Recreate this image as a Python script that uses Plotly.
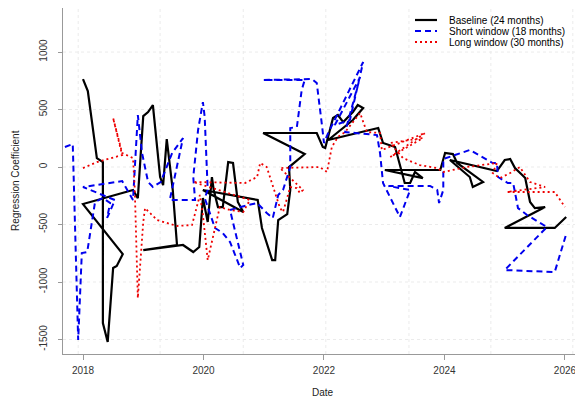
import plotly.graph_objects as go

# ---------------- data (decimal year, coefficient) ----------------
baseline_x = [2018.00, 2018.08, 2018.23, 2018.33, 2018.33, 2018.41, 2018.50, 2018.56, 2018.66, 2018.00,
              2018.83, 2018.91, 2019.00, 2019.08, 2019.16, 2019.28, 2019.33, 2019.39, 2019.49, 2019.56,
              2019.00, 2019.66, 2019.83, 2019.93, 2019.99, 2020.07, 2020.14, 2020.17, 2020.24, 2020.32,
              2020.41, 2020.49, 2020.57, 2020.66, 2019.99, 2020.90, 2020.97, 2021.14, 2021.19, 2021.24,
              2021.39, 2021.44, 2021.42, 2021.68, 2020.99, 2021.88, 2021.98, 2022.02, 2022.15, 2022.23,
              2022.32, 2022.48, 2022.56, 2022.65, 2022.48, 2022.07, 2022.90, 2022.98, 2023.18, 2023.34,
              2023.43, 2023.51, 2023.64, 2023.01, 2023.93, 2024.01, 2024.14, 2024.21, 2024.64, 2024.47,
              2024.42, 2024.09, 2024.87, 2025.00, 2025.09, 2025.17, 2025.29, 2025.34, 2025.42, 2025.50,
              2025.67, 2025.00, 2025.83, 2026.02]
baseline_y = [765, 661, 78, 43, -1357, -1522, -878, -861, -757, -322,
              -200, -270, 443, 478, 539, -87, -157, 243, -200, -678,
              -722, -678, -739, -696, -270, -478, -87, -200, -348, -348,
              43, 35, -304, -391, -200, -287, -530, -809, -809, -461,
              -409, -200, 0, 113, 296, 296, 174, 165, 426, 452,
              391, 478, 539, 513, 409, 235, 339, 209, 174, -139,
              -139, -43, -96, -26, -26, 122, 113, 35, -130, -174,
              -87, 61, -35, 61, 70, -9, -70, -96, -304, -357,
              -348, -530, -530, -435]

short_x = [2017.70, 2017.83, 2017.92, 2017.98, 2018.07, 2018.20, 2018.33, 2018.45, 2018.40, 2018.53,
           2018.00, 2018.65, 2018.83, 2018.91, 2018.98, 2019.08, 2019.16, 2019.29, 2019.48, 2019.66,
           2019.44, 2019.86, 2019.83, 2019.91, 2019.99, 2020.02, 2020.07, 2020.02, 2020.19, 2020.32,
           2020.44, 2020.61, 2020.66, 2020.44, 2020.74, 2020.89, 2021.05, 2021.15, 2021.24, 2021.32,
           2021.44, 2021.44, 2021.55, 2021.63, 2021.68, 2020.99, 2021.80, 2021.88, 2021.97, 2022.00,
           2022.07, 2022.65, 2022.43, 2022.18, 2022.60, 2022.35, 2022.88, 2022.93, 2022.98, 2023.26,
           2023.43, 2023.07, 2023.76, 2023.88, 2023.91, 2023.98, 2023.98, 2024.42, 2024.80, 2024.87,
           2024.89, 2025.05, 2025.14, 2025.22, 2025.37, 2025.70, 2025.00, 2025.83, 2026.02]
short_y = [174, 200, -1504, -748, -739, -304, -270, -313, -443, -287,
           -174, -122, -287, 452, 122, -130, -174, -130, 122, 252,
           -287, -287, -87, 322, 565, 435, -200, -270, -530, -574,
           -652, -878, -852, -374, -330, -313, -400, -443, -243, -200,
           0, 339, 348, 670, 757, 757, 765, 730, 348, 209,
           296, 913, 409, 365, 783, 304, 278, 122, -139, -435,
           -200, -165, -165, -200, -313, -200, 70, 148, 35, 35,
           -87, -139, -139, -357, -417, -522, -896, -913, -583]

long_x = [2018.00, 2018.23, 2018.65, 2018.50, 2018.65, 2018.83, 2018.86, 2018.91, 2019.00, 2019.03,
          2019.23, 2019.56, 2019.81, 2019.94, 2019.99, 2020.07, 2020.27, 2020.44, 2020.66, 2020.77,
          2019.83, 2020.69, 2020.89, 2020.94, 2021.05, 2021.27, 2021.32, 2021.44, 2021.55, 2021.60,
          2021.65, 2021.27, 2021.93, 2022.05, 2022.13, 2022.23, 2022.35, 2022.60, 2022.71, 2022.93,
          2022.96, 2023.68, 2023.10, 2023.64, 2023.10, 2023.31, 2023.59, 2023.88, 2023.98, 2024.37,
          2024.87, 2024.80, 2024.92, 2025.09, 2025.25, 2025.42, 2025.67, 2025.04, 2025.83, 2026.00]
long_y = [-9, 43, 104, 426, 122, 78, -200, -1139, -478, -357,
          -461, -513, -504, -243, -417, -809, -348, -374, -391, -287,
          -130, -139, -87, 35, 0, -357, -391, -174, -183, -226,
          -200, -9, 0, -43, 174, 261, 304, 470, 304, 296,
          148, 296, 87, 252, 209, 78, 17, -9, -43, 0,
          35, -52, -96, -52, 0, -130, -174, -217, -217, -348]

x_ticks = [2018, 2020, 2022, 2024, 2026]
x_ticklabels = ["2018", "2020", "2022", "2024", "2026"]
y_ticks = [-1500, -1000, -500, 0, 500, 1000]
y_ticklabels = ["-1500", "-1000", "-500", "0", "500", "1000"]
grid_x = [2017.92, 2019.28, 2020.66, 2022.03, 2023.41, 2024.77, 2026.13]

series_names = ["Baseline (24 months)", "Short window (18 months)", "Long window (30 months)"]
series_colors = ["#000000", "#0000EE", "#EE0000"]
series_dash = ["solid", "6px,4px", "2px,3px"]
series_width = [2.2, 2.0, 1.8]

fig = go.Figure()
for xs, ys, nm, c, d, w in zip([baseline_x, short_x, long_x], [baseline_y, short_y, long_y],
                              series_names, series_colors, series_dash, series_width):
    fig.add_trace(go.Scatter(x=xs, y=ys, mode="lines", name=nm,
                             line=dict(color=c, dash=d, width=w), showlegend=False))

shapes = []
for gx in grid_x:
    shapes.append(dict(type="line", xref="x", yref="paper", x0=gx, x1=gx, y0=0, y1=1,
                       line=dict(color="#ebebeb", width=1, dash="dot"), layer="below"))
for gy in y_ticks:
    shapes.append(dict(type="line", xref="paper", yref="y", x0=0, x1=1, y0=gy, y1=gy,
                       line=dict(color="#ebebeb", width=1, dash="dot"), layer="below"))

annotations = []
# manual legend (top right, no frame)
for i, (nm, c, d, w) in enumerate(zip(series_names, series_colors, series_dash, series_width)):
    yoff = -12 - 11 * i
    shapes.append(dict(type="line", xref="paper", yref="paper", xsizemode="pixel", ysizemode="pixel",
                       xanchor=1, yanchor=1, x0=-168, x1=-146, y0=yoff, y1=yoff,
                       line=dict(color=c, dash=d, width=w)))
    annotations.append(dict(text=nm, xref="paper", yref="paper", x=1, y=1, xshift=-136, yshift=yoff,
                            xanchor="left", yanchor="middle", showarrow=False,
                            font=dict(family="Liberation Sans, Arial", size=10, color="#000")))

annotations.append(dict(text="Date", xref="paper", yref="paper", x=0.5, y=0, yshift=-38,
                        xanchor="center", yanchor="middle", showarrow=False,
                        font=dict(family="Liberation Sans, Arial", size=10, color="#222")))
annotations.append(dict(text="Regression Coefficient", xref="paper", yref="paper", x=0, y=0.5,
                        xshift=-48, xanchor="center", yanchor="middle", textangle=-90, showarrow=False,
                        font=dict(family="Liberation Sans, Arial", size=10, color="#222")))

fig.update_layout(
    width=583, height=397,
    margin=dict(l=55, r=8, t=0, b=51),
    paper_bgcolor="white", plot_bgcolor="white",
    shapes=shapes, annotations=annotations,
    xaxis=dict(range=[2017.668, 2026.299], tickvals=x_ticks, ticktext=x_ticklabels,
               showgrid=False, zeroline=False, showline=True, mirror=True, linecolor="#999",
               linewidth=1, ticks="outside", ticklen=5, tickcolor="#999", ticklabelstandoff=2,
               tickfont=dict(family="Liberation Sans, Arial", size=10, color="#333")),
    yaxis=dict(range=[-1626, 1383], tickvals=y_ticks, ticktext=y_ticklabels, tickangle=-90,
               showgrid=False, zeroline=False, showline=True, linecolor="#999", linewidth=1,
               ticks="outside", ticklen=4, tickcolor="#999", ticklabelstandoff=7,
               tickfont=dict(family="Liberation Sans, Arial", size=10, color="#333")),
)

fig.write_html("out.html")
